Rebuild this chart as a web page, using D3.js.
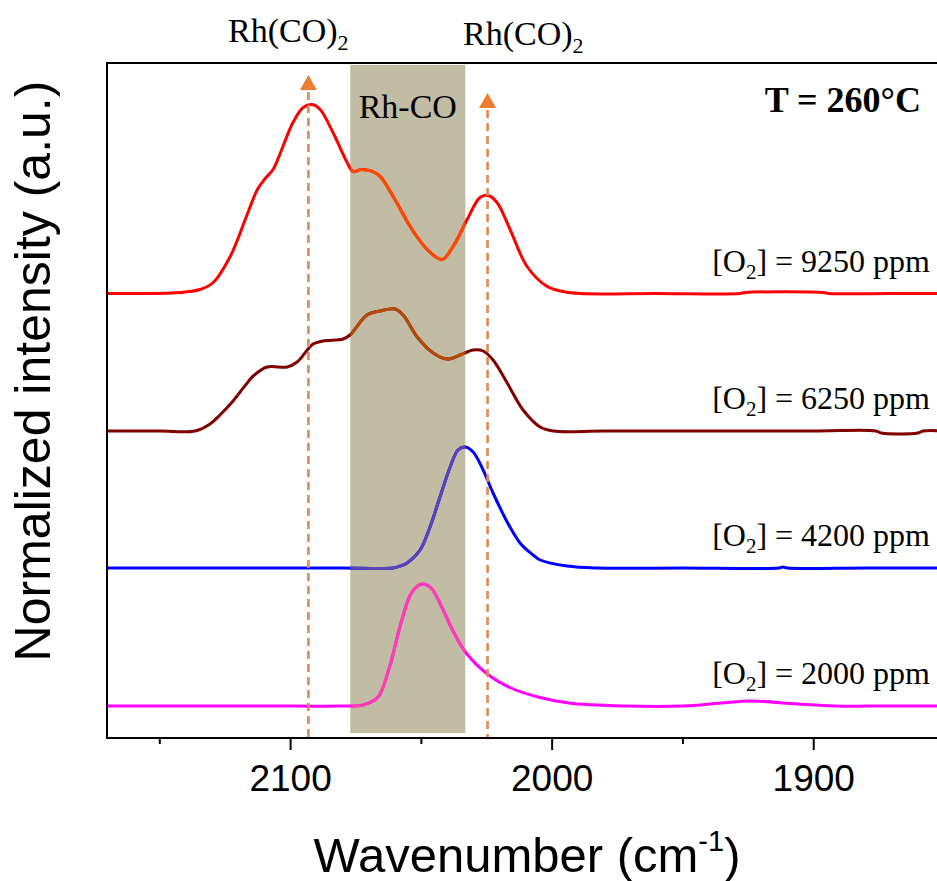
<!DOCTYPE html>
<html>
<head>
<meta charset="utf-8">
<script src="https://cdn.jsdelivr.net/npm/d3@7"></script>
<style>
  body { margin: 0; background: #fff; }
  svg { display: block; }
</style>
</head>
<body>
<svg id="chart" width="937" height="881"></svg>
<script>
// ---- Data -------------------------------------------------------------
// O2 concentrations of the four stacked spectra (top to bottom)
const o2ppm = [9250, 6250, 4200, 2000];
// vertical offset of each spectrum (a.u.)
const offsets = [4.445, 3.07, 1.70, 0.32];
// line colours, and the tint each line takes inside the Rh-CO band
const lineColors = ["#ff0000", "#800000", "#0000ff", "#ff00ff"];
const bandLineColors = ["#ff4800", "#b24c08", "#5a44b6", "#ff3cb4"];

// [wavenumber (cm-1), normalized intensity]
const spectrum9250 = [
  [2170, 0.00], [2142.1, 0.01], [2134.4, 0.04], [2129.4, 0.11], [2122.9, 0.37],
  [2116.4, 0.79], [2112.5, 1.04], [2109.5, 1.15], [2106.5, 1.24], [2103.8, 1.40],
  [2098.9, 1.71], [2095.0, 1.86], [2091.6, 1.89], [2088.5, 1.84], [2083.6, 1.61],
  [2078.2, 1.31], [2075.9, 1.22], [2072.5, 1.24], [2066.4, 1.19], [2060.6, 0.97],
  [2054.1, 0.67], [2047.6, 0.44], [2041.9, 0.34], [2037.7, 0.47], [2032.3, 0.74],
  [2027.4, 0.96], [2024.3, 0.98], [2020.9, 0.91], [2015.9, 0.64], [2009.4, 0.27],
  [2001.7, 0.07], [1995.6, 0.02], [1989.1, 0.00], [1960, 0.00], [1928, 0.00],
  [1926, 0.01], [1896, 0.01], [1894, 0.00], [1870, 0.00], [1850, 0.00]
];
const spectrum6250 = [
  [2170, 0.00], [2150, 0.00], [2136.3, 0.00], [2130.6, 0.07], [2126.8, 0.16],
  [2121.8, 0.30], [2119.1, 0.39], [2116.4, 0.48], [2114.1, 0.55], [2108.8, 0.64],
  [2101.1, 0.64], [2097.3, 0.69], [2091.2, 0.87], [2087.4, 0.90], [2079.7, 0.92],
  [2077.1, 0.96], [2070.6, 1.16], [2065.6, 1.20], [2059.9, 1.22], [2056.8, 1.16],
  [2051.4, 0.94], [2045.3, 0.78], [2040.0, 0.72], [2035.0, 0.76], [2030.0, 0.81],
  [2026.2, 0.80], [2022.4, 0.71], [2017.0, 0.48], [2010.9, 0.21], [2004.4, 0.04],
  [1999.4, 0.00], [1980, 0.00], [1940, 0.00], [1900, 0.00], [1876, 0.00],
  [1874, -0.02], [1860, -0.02], [1858, 0.00], [1850, 0.00]
];
const spectrum4200 = [
  [2170, 0.00], [2140, 0.00], [2110, 0.00], [2080, 0.00], [2060.6, 0.00],
  [2057.9, 0.02], [2055.3, 0.05], [2050.3, 0.18], [2046.5, 0.41], [2042.7, 0.71],
  [2038.8, 1.01], [2035.8, 1.18], [2033.1, 1.21], [2030.0, 1.16], [2026.2, 0.98],
  [2022.4, 0.75], [2017.0, 0.46], [2012.1, 0.25], [2007.1, 0.13], [2004.4, 0.08],
  [1994.1, 0.02], [1982.6, 0.00], [1950, 0.00], [1913, 0.00], [1911.5, 0.01],
  [1910, 0.00], [1880, 0.00], [1850, 0.00]
];
const spectrum2000 = [
  [2170, 0.00], [2140, 0.00], [2110, 0.00], [2080.9, 0.00], [2072.1, 0.01],
  [2066.4, 0.09], [2062.0, 0.39], [2057.6, 0.83], [2053.4, 1.14], [2049.5, 1.22],
  [2046.1, 1.18], [2041.5, 0.96], [2037.3, 0.73], [2032.7, 0.53], [2024.1, 0.31],
  [2015.5, 0.18], [2005.2, 0.09], [1993.5, 0.03], [1971.7, 0.00], [1949.7, 0.00],
  [1935.2, 0.03], [1923.7, 0.05], [1906.1, 0.02], [1891.6, 0.00], [1870, 0.00],
  [1850, 0.00]
];
const spectra = [spectrum9250, spectrum6250, spectrum4200, spectrum2000];

// Rh-CO band (cm-1) and the two Rh(CO)2 peak positions
const rhCOBand = [2077, 2033];
const rhCO2Peaks = [2093, 2024.5];
const rhCO2ArrowTips = [6.63, 6.45];

// axis ticks
const majorTicks = [2100, 2000, 1900];
const minorTicks = [2150, 2050, 1950];

// ---- Layout -----------------------------------------------------------
const svg = d3.select("#chart");
const plot = { left: 107, right: 944, top: 63, bottom: 738 };

const x = d3.scaleLinear().domain([2170, 1850]).range([plot.left, plot.right]);
const y = d3.scaleLinear().domain([0, 6.75]).range([plot.bottom, plot.top]);

const sans = "'Liberation Sans', Arial, sans-serif";
const serif = "'Liberation Serif', 'Times New Roman', serif";

const defs = svg.append("defs");
defs.append("clipPath").attr("id", "plotClip")
  .append("rect")
  .attr("x", plot.left).attr("y", plot.top)
  .attr("width", plot.right - plot.left).attr("height", plot.bottom - plot.top);
defs.append("clipPath").attr("id", "bandClip")
  .append("rect")
  .attr("x", x(rhCOBand[0])).attr("y", plot.top)
  .attr("width", x(rhCOBand[1]) - x(rhCOBand[0]))
  .attr("height", plot.bottom - plot.top);

// shaded Rh-CO band
svg.append("rect")
  .attr("x", x(rhCOBand[0]))
  .attr("y", y(6.73))
  .attr("width", x(rhCOBand[1]) - x(rhCOBand[0]))
  .attr("height", y(0.05) - y(6.73))
  .attr("fill", "#c3bca5");

// spectra
const line = d3.line()
  .x(d => x(d[0]))
  .curve(d3.curveCatmullRom.alpha(0.5));

const curves = svg.append("g").attr("clip-path", "url(#plotClip)");
spectra.forEach((s, i) => {
  const path = line.y(d => y(d[1] + offsets[i]))(s);
  curves.append("path")
    .attr("d", path)
    .attr("fill", "none")
    .attr("stroke", lineColors[i])
    .attr("stroke-width", 3)
    .attr("stroke-linejoin", "round");
  curves.append("path")
    .attr("d", path)
    .attr("clip-path", "url(#bandClip)")
    .attr("fill", "none")
    .attr("stroke", bandLineColors[i])
    .attr("stroke-width", 3)
    .attr("stroke-linejoin", "round");
});

// Rh(CO)2 markers: dashed guide lines with a triangle on top
rhCO2Peaks.forEach((w, i) => {
  const px = x(w);
  const tip = y(rhCO2ArrowTips[i]);
  svg.append("line")
    .attr("x1", px).attr("x2", px)
    .attr("y1", tip + 17).attr("y2", y(0))
    .attr("stroke", "#dd8a55")
    .attr("stroke-width", 2.6)
    .attr("stroke-dasharray", "8,5");
  svg.append("path")
    .attr("d", `M${px},${tip} L${px + 8.5},${tip + 15} L${px - 8.5},${tip + 15} Z`)
    .attr("fill", "#ed7d31");
});

// frame
svg.append("rect")
  .attr("x", plot.left).attr("y", plot.top)
  .attr("width", plot.right - plot.left).attr("height", plot.bottom - plot.top)
  .attr("fill", "none").attr("stroke", "#000").attr("stroke-width", 2);

// x axis
const xAxis = svg.append("g")
  .attr("transform", `translate(0,${plot.bottom})`)
  .call(d3.axisBottom(x).tickValues(majorTicks).tickSize(12).tickPadding(15)
    .tickFormat(d3.format("d")));
xAxis.select(".domain").remove();
xAxis.selectAll(".tick line").attr("stroke", "#000").attr("stroke-width", 2);
xAxis.selectAll(".tick text")
  .attr("fill", "#000")
  .style("font-family", sans)
  .style("font-size", "37px");

const xMinor = svg.append("g")
  .attr("transform", `translate(0,${plot.bottom})`)
  .call(d3.axisBottom(x).tickValues(minorTicks).tickSize(6).tickFormat(""));
xMinor.select(".domain").remove();
xMinor.selectAll(".tick line").attr("stroke", "#000").attr("stroke-width", 2);

// axis titles
const xTitle = svg.append("text")
  .attr("x", 527).attr("y", 872)
  .attr("text-anchor", "middle")
  .style("font-family", sans).style("font-size", "49px")
  .attr("fill", "#000");
xTitle.append("tspan").text("Wavenumber (cm");
xTitle.append("tspan").attr("dy", -21).style("font-size", "29px").text("-1");
xTitle.append("tspan").attr("dy", 21).text(")");

svg.append("text")
  .attr("transform", "translate(50,371) rotate(-90)")
  .attr("text-anchor", "middle")
  .style("font-family", sans).style("font-size", "50px")
  .attr("fill", "#000")
  .text("Normalized intensity (a.u.)");

// annotations
function rhCO2Label(xPos, yPos) {
  const t = svg.append("text")
    .attr("x", xPos).attr("y", yPos)
    .style("font-family", serif).style("font-size", "34px")
    .attr("fill", "#000");
  t.append("tspan").text("Rh(CO)");
  t.append("tspan").attr("dy", 8).style("font-size", "22px").text("2");
}
rhCO2Label(228, 42);
rhCO2Label(463, 45);

svg.append("text")
  .attr("x", (x(rhCOBand[0]) + x(rhCOBand[1])) / 2).attr("y", 118)
  .attr("text-anchor", "middle")
  .style("font-family", serif).style("font-size", "34px")
  .attr("fill", "#000")
  .text("Rh-CO");

svg.append("text")
  .attr("x", 921).attr("y", 112)
  .attr("text-anchor", "end")
  .style("font-family", serif).style("font-size", "36px").style("font-weight", "bold")
  .attr("fill", "#000")
  .text("T = 260°C");

o2ppm.forEach((ppm, i) => {
  const t = svg.append("text")
    .attr("x", 930).attr("y", y(offsets[i]) - 22)
    .attr("text-anchor", "end")
    .style("font-family", serif).style("font-size", "32px")
    .attr("fill", "#000");
  t.append("tspan").text("[O");
  t.append("tspan").attr("dy", 7).style("font-size", "21px").text("2");
  t.append("tspan").attr("dy", -7).text(`] = ${ppm} ppm`);
});
</script>
</body>
</html>
